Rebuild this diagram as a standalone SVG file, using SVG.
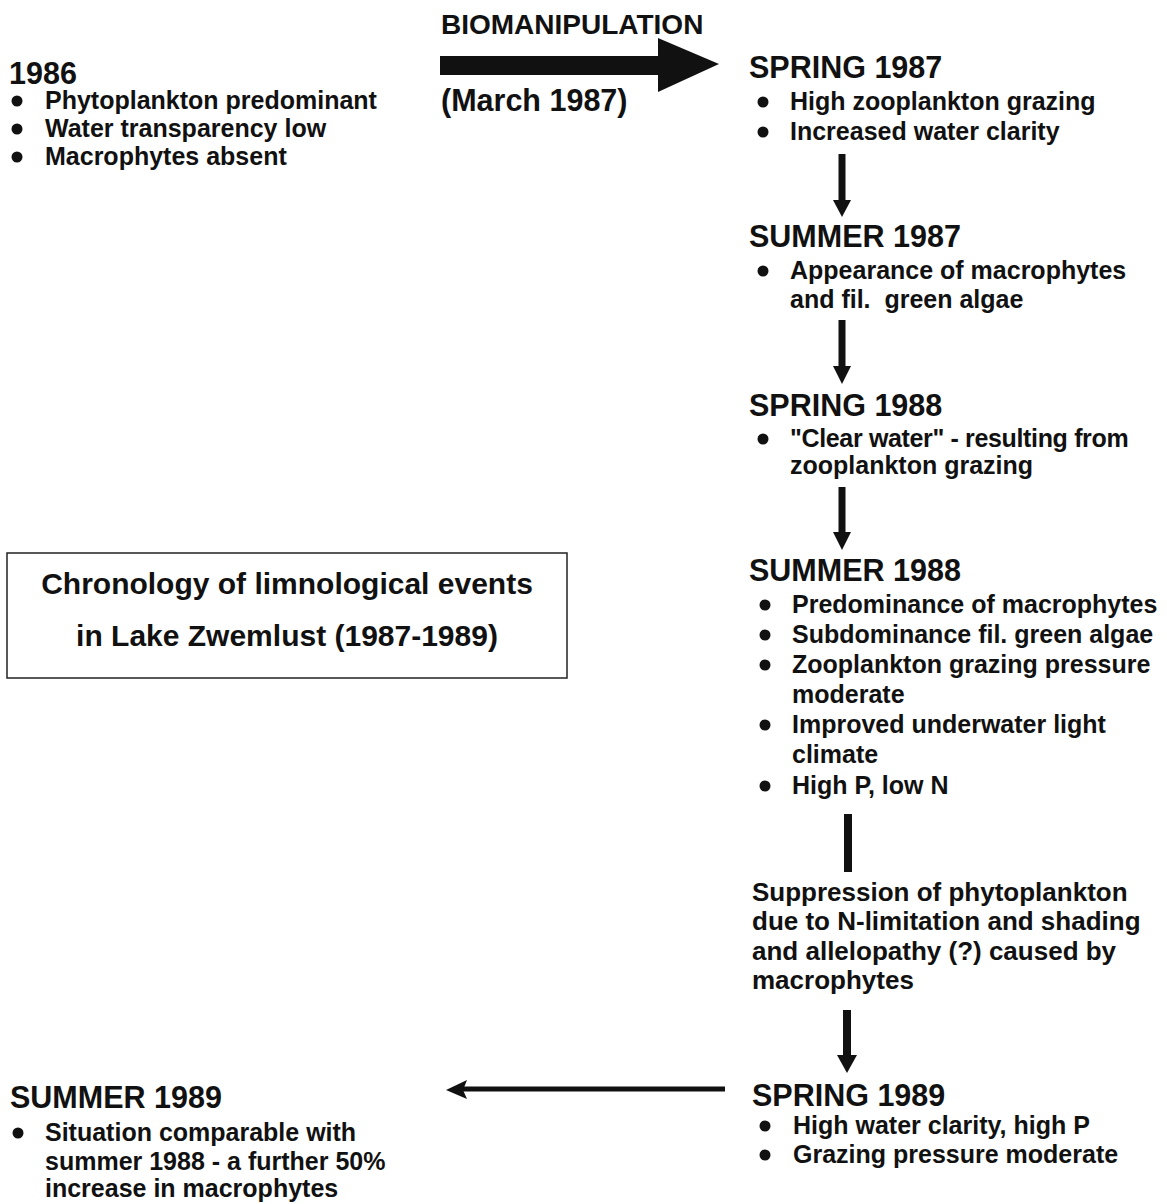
<svg xmlns="http://www.w3.org/2000/svg" width="1167" height="1204" viewBox="0 0 1167 1204">
<defs>
<style>
text{font-family:"Liberation Sans",Arial,Helvetica,sans-serif;font-weight:bold;fill:#111;}
.h{font-size:30.5px;}
.t{font-size:28px;}
.b{font-size:25px;}
.s{font-size:26px;}
.box{font-size:30px;}
.dot{fill:#111;}
.shaft{stroke:#111;fill:none;}
.head{fill:#111;}
</style>
</defs>
<rect width="1167" height="1204" fill="#fff"/>

<g id="connectors">
<g id="biomanipulation-arrow">
<rect x="440" y="56" width="220" height="19" class="head"/>
<polygon points="658,38 719,64 658,92" class="head"/>
</g>
<g id="arrow-spring87-summer87">
<line x1="842" y1="154" x2="842" y2="202" class="shaft" stroke-width="7"/>
<polygon points="833,200 851,200 842,217" class="head"/>
</g>
<g id="arrow-summer87-spring88">
<line x1="842" y1="320" x2="842" y2="368" class="shaft" stroke-width="7"/>
<polygon points="833,366 851,366 842,384" class="head"/>
</g>
<g id="arrow-spring88-summer88">
<line x1="842" y1="487" x2="842" y2="534" class="shaft" stroke-width="7"/>
<polygon points="833,532 851,532 842,550" class="head"/>
</g>
<g id="bar-summer88-suppression">
<line x1="848" y1="814" x2="848" y2="872" class="shaft" stroke-width="8"/>
</g>
<g id="arrow-suppression-spring89">
<line x1="847" y1="1010" x2="847" y2="1057" class="shaft" stroke-width="8"/>
<polygon points="837,1055 857,1055 847,1073" class="head"/>
</g>
<g id="arrow-spring89-summer89">
<line x1="462" y1="1089" x2="725" y2="1089" class="shaft" stroke-width="5"/>
<polygon points="446,1090 467,1080 463,1090 467,1099" class="head"/>
</g>
</g>

<g id="biomanipulation">
<text x="441" y="34" class="t">BIOMANIPULATION</text>
<text x="441" y="111" class="h">(March 1987)</text>
</g>

<g id="node-1986">
<text x="9" y="84" class="h">1986</text>
<circle cx="17" cy="101" r="5.5" class="dot"/>
<text x="45" y="109" class="b">Phytoplankton predominant</text>
<circle cx="17" cy="129" r="5.5" class="dot"/>
<text x="45" y="137" class="b">Water transparency low</text>
<circle cx="17" cy="157" r="5.5" class="dot"/>
<text x="45" y="165" class="b">Macrophytes absent</text>
</g>

<g id="node-spring1987">
<text x="749" y="78" class="h">SPRING 1987</text>
<circle cx="763" cy="102" r="5.5" class="dot"/>
<text x="790" y="110" class="b">High zooplankton grazing</text>
<circle cx="763" cy="132" r="5.5" class="dot"/>
<text x="790" y="140" class="b">Increased water clarity</text>
</g>

<g id="node-summer1987">
<text x="749" y="247" class="h">SUMMER 1987</text>
<circle cx="763" cy="271" r="5.5" class="dot"/>
<text x="790" y="279" class="b">Appearance of macrophytes</text>
<text x="790" y="308" class="b" xml:space="preserve">and fil.  green algae</text>
</g>

<g id="node-spring1988">
<text x="749" y="416" class="h">SPRING 1988</text>
<circle cx="763" cy="439" r="5.5" class="dot"/>
<text x="790" y="447" class="b" letter-spacing="-0.35">"Clear water" - resulting from</text>
<text x="790" y="474" class="b">zooplankton grazing</text>
</g>

<g id="node-summer1988">
<text x="749" y="581" class="h">SUMMER 1988</text>
<circle cx="765" cy="605" r="5.5" class="dot"/>
<text x="792" y="613" class="b">Predominance of macrophytes</text>
<circle cx="765" cy="635" r="5.5" class="dot"/>
<text x="792" y="643" class="b">Subdominance fil. green algae</text>
<circle cx="765" cy="665" r="5.5" class="dot"/>
<text x="792" y="673" class="b">Zooplankton grazing pressure</text>
<text x="792" y="703" class="b">moderate</text>
<circle cx="765" cy="725" r="5.5" class="dot"/>
<text x="792" y="733" class="b">Improved underwater light</text>
<text x="792" y="763" class="b">climate</text>
<circle cx="765" cy="786" r="5.5" class="dot"/>
<text x="792" y="794" class="b">High P, low N</text>
</g>

<g id="node-suppression">
<text x="752" y="901" class="s">Suppression of phytoplankton</text>
<text x="752" y="930" class="s">due to N-limitation and shading</text>
<text x="752" y="960" class="s">and allelopathy (?) caused by</text>
<text x="752" y="989" class="s">macrophytes</text>
</g>

<g id="node-spring1989">
<text x="752" y="1106" class="h">SPRING 1989</text>
<circle cx="765" cy="1126" r="5.5" class="dot"/>
<text x="793" y="1134" class="b">High water clarity, high P</text>
<circle cx="765" cy="1155" r="5.5" class="dot"/>
<text x="793" y="1163" class="b">Grazing pressure moderate</text>
</g>

<g id="node-summer1989">
<text x="10" y="1108" class="h">SUMMER 1989</text>
<circle cx="18" cy="1133" r="5.5" class="dot"/>
<text x="45" y="1141" class="b">Situation comparable with</text>
<text x="45" y="1170" class="b">summer 1988 - a further 50%</text>
<text x="45" y="1197" class="b">increase in macrophytes</text>
</g>

<g id="title-box">
<rect x="7" y="553" width="560" height="125" fill="none" stroke="#222" stroke-width="1.5"/>
<text x="287" y="594" class="box" text-anchor="middle">Chronology of limnological events</text>
<text x="287" y="646" class="box" text-anchor="middle">in Lake Zwemlust (1987-1989)</text>
</g>
</svg>
